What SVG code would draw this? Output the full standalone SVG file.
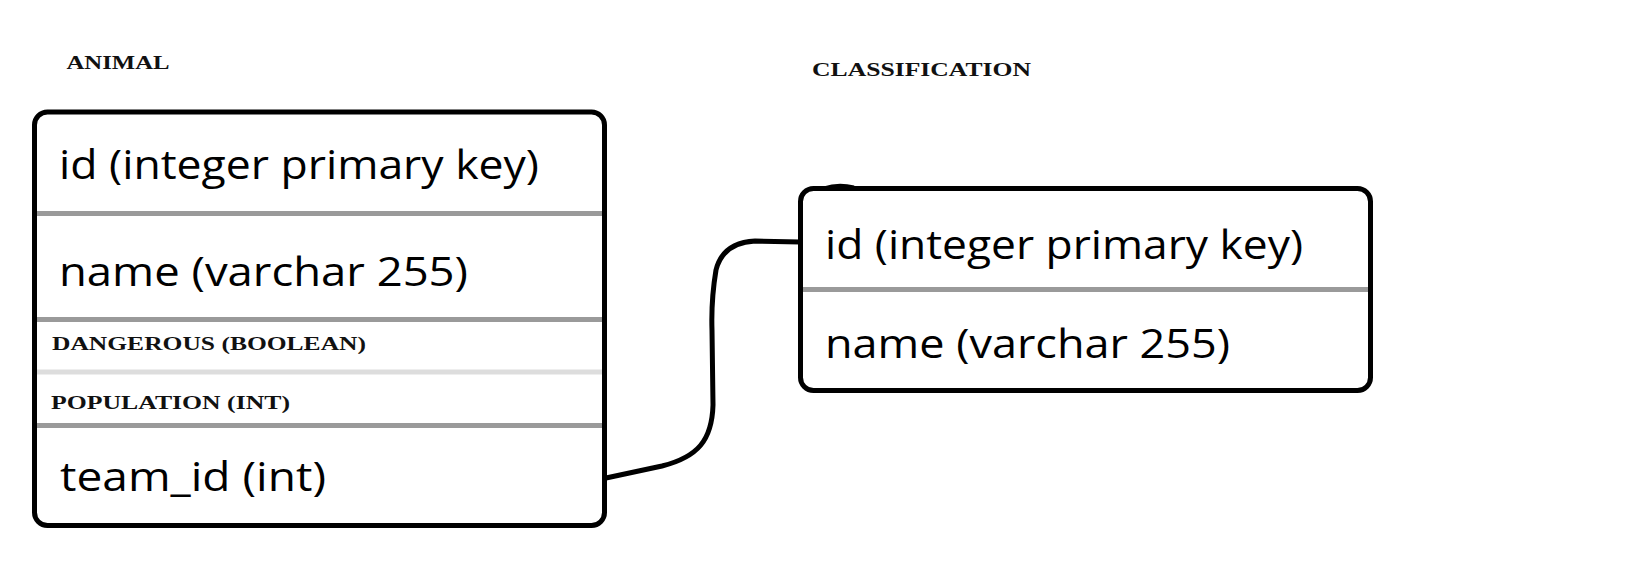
<svg xmlns="http://www.w3.org/2000/svg" width="1630" height="564" viewBox="0 0 1630 564">
  <style>
    .box { fill: #ffffff; stroke: #000000; stroke-width: 5; }
    .div { stroke: #9a9a9a; stroke-width: 5; }
    .div-light { stroke: #dddddd; stroke-width: 5; }
    .hand { font-family: "Open Sans", "Liberation Sans", sans-serif; font-size: 40px; fill: #000; }
    .caps { font-family: "Liberation Serif", "DejaVu Serif", serif; font-weight: bold; font-size: 18.5px; fill: #111; }
    .title { font-family: "Liberation Serif", "DejaVu Serif", serif; font-weight: bold; font-size: 19px; fill: #111; }
    .conn { fill: none; stroke: #000; stroke-width: 5; stroke-linecap: round; stroke-linejoin: round; }
  </style>
  <rect width="1630" height="564" fill="#ffffff"/>

  <g id="connectors">
    <path class="conn" d="M606,478 L662,466 C698,457 712,440 713,405 L712,330 C711,300 714,282 716,270 C721,250 735,242 755,241 L800,242"/>
  </g>

  <g id="animal">
    <text class="title" x="66.5" y="69" textLength="103" lengthAdjust="spacingAndGlyphs">ANIMAL</text>
    <rect class="box" x="34.5" y="112" width="570" height="413.5" rx="13" ry="13"/>
    <line class="div" x1="37" y1="213.5" x2="602" y2="213.5"/>
    <line class="div" x1="37" y1="319.5" x2="602" y2="319.5"/>
    <line class="div-light" x1="37" y1="372" x2="602" y2="372"/>
    <line class="div" x1="37" y1="425.5" x2="602" y2="425.5"/>
    <text class="hand" x="59" y="179" textLength="480" lengthAdjust="spacingAndGlyphs">id (integer primary key)</text>
    <text class="hand" x="59" y="286" textLength="409" lengthAdjust="spacingAndGlyphs">name (varchar 255)</text>
    <text class="caps" x="52" y="350" textLength="314" lengthAdjust="spacingAndGlyphs">DANGEROUS (BOOLEAN)</text>
    <text class="caps" x="51" y="409" textLength="239" lengthAdjust="spacingAndGlyphs">POPULATION (INT)</text>
    <text class="hand" x="60" y="491" textLength="266" lengthAdjust="spacingAndGlyphs">team_id (int)</text>
  </g>

  <g id="classification">
    <text class="title" x="812" y="76" textLength="219" lengthAdjust="spacingAndGlyphs">CLASSIFICATION</text>
    <rect class="box" x="800.5" y="188.5" width="570" height="202" rx="13" ry="13"/>
    <path d="M824,188 Q838,183 854,187" fill="none" stroke="#000" stroke-width="3"/>
    <line class="div" x1="803" y1="289.5" x2="1368" y2="289.5"/>
    <text class="hand" x="825" y="259" textLength="478" lengthAdjust="spacingAndGlyphs">id (integer primary key)</text>
    <text class="hand" x="825" y="358" textLength="405" lengthAdjust="spacingAndGlyphs">name (varchar 255)</text>
  </g>
</svg>
